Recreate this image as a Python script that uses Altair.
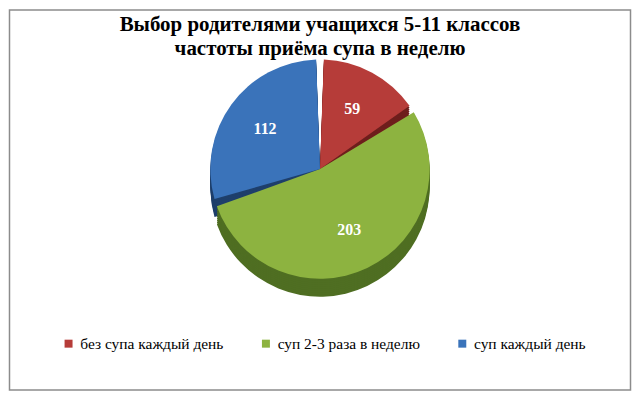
import altair as alt
import pandas as pd

title_lines = ["Выбор родителями учащихся 5-11 классов", "частоты приёма супа в неделю"]
categories = ["без супа каждый день", "суп 2-3 раза в неделю", "суп каждый день"]
values = [59, 203, 112]
top_colors = ["#B63C39", "#8DB340", "#3A73BA"]
side_colors = ["#6E1E1C", "#4F6E22", "#1E3F6B"]

df = pd.DataFrame({"cat": categories, "val": values, "ord": list(range(len(values))),
                   "side": side_colors})

W, H = 624, 382
CX, CY, R, DEPTH = 312, 160, 110, 18
FONT = "Liberation Serif"

base = alt.Chart(df)
theta = alt.Theta("val:Q", stack=True)
order = alt.Order("ord:Q")

layers = []
# border
layers.append(
    alt.Chart(df).mark_rect(fill=None, stroke="#8c8c8c", strokeWidth=1.5).encode(
        x=alt.value(0.5), x2=alt.value(W - 0.5), y=alt.value(0.5), y2=alt.value(H - 0.5)
    ).transform_filter("datum.ord == 0")
)
# pseudo-3D side
for k in range(DEPTH, 0, -2):
    layers.append(
        base.mark_arc(radius=R, padAngle=0.07).encode(
            theta=theta, order=order,
            fill=alt.Fill("side:N", scale=None),
            x=alt.value(CX), y=alt.value(CY + k),
        )
    )
# top face
layers.append(
    base.mark_arc(radius=R, padAngle=0.07).encode(
        theta=theta, order=order,
        color=alt.Color("cat:N", sort=categories,
                        scale=alt.Scale(domain=categories, range=top_colors),
                        legend=alt.Legend(title=None, orient="none", direction="horizontal",
                                          legendX=52, legendY=327, symbolType="square",
                                          symbolSize=64, symbolStrokeWidth=0,
                                          labelFont=FONT, labelFontSize=15.5, labelColor="#000",
                                          labelLimit=400, columnPadding=34)),
        x=alt.value(CX), y=alt.value(CY),
    )
)
# value labels
layers.append(
    base.mark_text(radius=R * 0.62, font=FONT, fontSize=16, fontWeight="bold", color="white").encode(
        theta=theta, order=order, text="val:Q",
        x=alt.value(CX), y=alt.value(CY),
    )
)
# title
layers.append(
    alt.Chart(df).mark_text(font=FONT, fontSize=21, fontWeight="bold", color="#000",
                            lineHeight=25, baseline="top", align="center").encode(
        x=alt.value(W / 2), y=alt.value(4), text=alt.value(title_lines)
    ).transform_filter("datum.ord == 0")
)

chart = alt.layer(*layers).properties(
    width=W, height=H, padding=0, background="white"
).configure_view(stroke=None)

chart.save("out.html", embed_options={"renderer": "svg", "actions": False})
